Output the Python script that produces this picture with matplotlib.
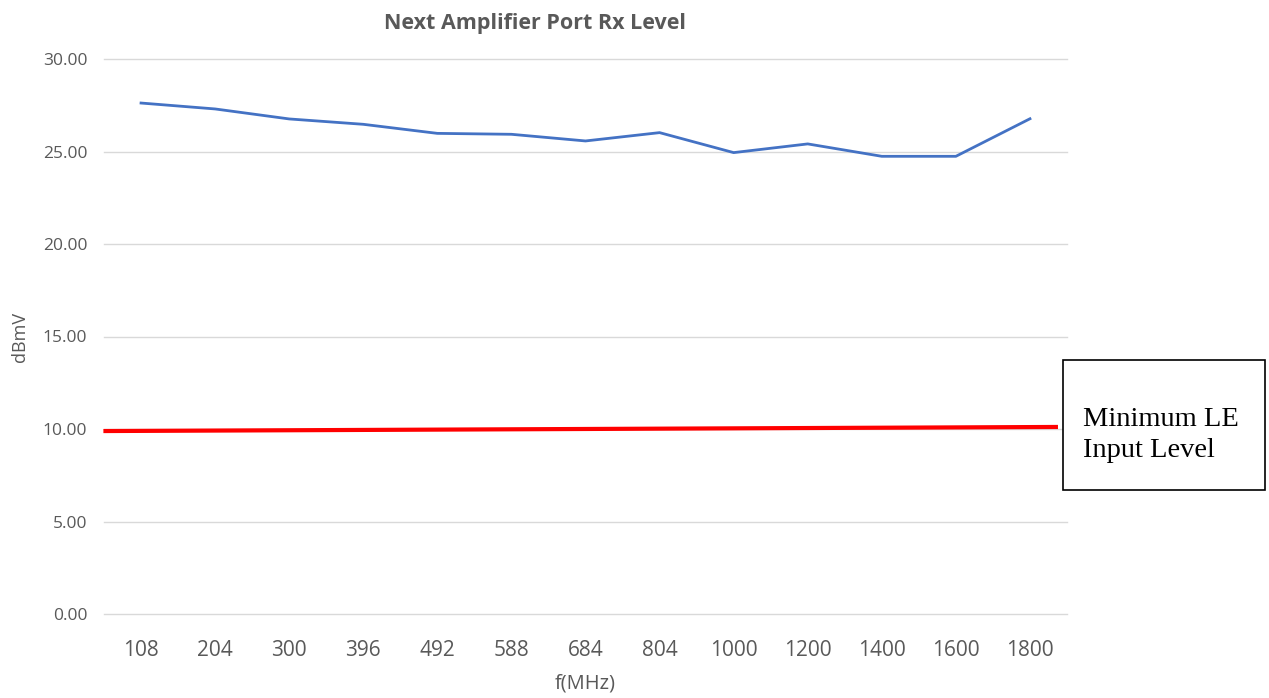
import matplotlib.pyplot as plt
from matplotlib.patches import Rectangle

# data
freqs = ["108", "204", "300", "396", "492", "588", "684", "804",
         "1000", "1200", "1400", "1600", "1800"]
rx_level = [27.62, 27.30, 26.76, 26.47, 25.98, 25.93, 25.57, 26.02,
            24.94, 25.41, 24.74, 24.74, 26.77]
min_le_x = [-0.48, 12.35]
min_le_y = [9.89, 10.11]
y_ticks = [0, 5, 10, 15, 20, 25, 30]

plt.rcParams["font.family"] = ["Open Sans", "DejaVu Sans"]

fig = plt.figure(figsize=(12.69, 6.98), dpi=100)
ax = fig.add_axes([104 / 1269, 84 / 698, 963 / 1269, 555 / 698])

x = list(range(len(freqs)))
ax.plot(x, rx_level, color="#4472C4", lw=2.0, zorder=3)
ax.plot(min_le_x, min_le_y, color="#FF0000", lw=3.0, zorder=4, clip_on=False)

ax.set_xlim(-0.5, len(freqs) - 0.5)
ax.set_ylim(0, 30)
ax.set_yticks(y_ticks)
ax.set_yticklabels([f"{v:.2f}" for v in y_ticks], fontsize=12.5, color="#595959")
ax.set_xticks(x)
ax.set_xticklabels(freqs, fontsize=15, color="#595959")
ax.tick_params(axis="both", length=0)
ax.tick_params(axis="x", pad=19)
ax.tick_params(axis="y", pad=12)
ax.grid(axis="y", color="#D9D9D9", lw=1)
for gl in ax.get_ygridlines():
    gl.set_clip_on(False)
ax.set_axisbelow(True)
for s in ax.spines.values():
    s.set_visible(False)

ax.set_xlabel("f(MHz)", fontsize=14.5, color="#595959", labelpad=9)
ax.set_ylabel("dBmV", fontsize=13, color="#595959", labelpad=10)
fig.text(535 / 1269, 1 - 24 / 698, "Next Amplifier Port Rx Level", ha="center", va="center",
         fontsize=15.5, fontweight="bold", color="#595959")

# annotation box
fig.patches.append(Rectangle((1063 / 1269, 1 - 490 / 698), 202 / 1269, 130 / 698,
                             transform=fig.transFigure, facecolor="white",
                             edgecolor="black", lw=1.2))
fig.text(1083 / 1269, 1 - 435 / 698, "Minimum LE\nInput Level", ha="left", va="center",
         fontsize=20.5, family=["Liberation Serif"], color="black", linespacing=1.35)

fig.savefig("out.png", dpi=100)
